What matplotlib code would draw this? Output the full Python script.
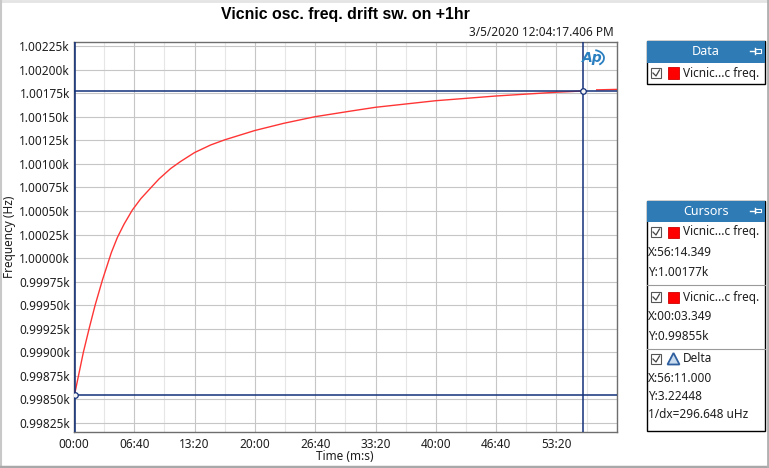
import matplotlib
matplotlib.use('Agg')
import matplotlib.pyplot as plt
from matplotlib.patches import Rectangle, Polygon, Arc
from matplotlib.lines import Line2D
from matplotlib.ticker import FuncFormatter, MultipleLocator, FixedLocator

plt.rcParams['font.family'] = ['Noto Sans', 'DejaVu Sans']

# trace: time in seconds, frequency in Hz
time_s = [3.349, 62, 100, 140, 189, 248, 288, 332, 387, 443, 509, 564, 641,
          707, 800, 906, 1000, 1200, 1391, 1598, 1836, 2000, 2400, 2800,
          3200, 3374.349]
freq_hz = [998.549, 999.00, 999.25, 999.50, 999.77, 1000.06, 1000.22, 1000.36,
           1000.51, 1000.63, 1000.745, 1000.84, 1000.95, 1001.025, 1001.12,
           1001.20, 1001.255, 1001.354, 1001.43, 1001.50, 1001.56, 1001.60,
           1001.67, 1001.72, 1001.76, 1001.773]
tail_s = [3467, 3600]
tail_hz = [1001.785, 1001.79]

cursor1 = (3374.349, 1001.773)
cursor2 = (3.349, 998.549)

x_ticks = [0, 400, 800, 1200, 1600, 2000, 2400, 2800, 3200]

title = 'Vicnic osc. freq. drift sw. on +1hr'
stamp = '3/5/2020 12:04:17.406 PM'
series_name = 'Vicnic...c freq.'
cursor_rows = [
    ['X:56:14.349', 'Y:1.00177k'],
    ['X:00:03.349', 'Y:0.99855k'],
    ['X:56:11.000', 'Y:3.22448', '1/dx=296.648 uHz'],
]

W, H = 769, 468
NAVY = '#13307a'
HEAD = '#2e7bb6'
TXT = '#1e1e1e'

fig = plt.figure(figsize=(W / 100, H / 100), dpi=100)
fig.patch.set_facecolor('white')


def fx(x):
    return x / W


def fy(y):
    return 1 - y / H


def box(x0, y0, x1, y1, **kw):
    fig.add_artist(Rectangle((fx(x0), fy(y1)), (x1 - x0) / W, (y1 - y0) / H,
                             transform=fig.transFigure, **kw))


def line(xs, ys, **kw):
    fig.add_artist(Line2D([fx(x) for x in xs], [fy(y) for y in ys],
                          transform=fig.transFigure, **kw))


def txt(x, y, s, **kw):
    kw.setdefault('va', 'center')
    fig.text(fx(x), fy(y), s, **kw)


ax = fig.add_axes([fx(74), fy(432), 542.7 / W, 390.3 / H])
ax.plot(time_s, freq_hz, color='#ff3535', lw=1.0, zorder=3)
ax.plot(tail_s, tail_hz, color='#ff3535', lw=1.0, zorder=3)
ax.set_xlim(0, 3600)
ax.set_ylim(998.155, 1002.296)

ax.xaxis.set_major_locator(FixedLocator(x_ticks))
ax.xaxis.set_minor_locator(MultipleLocator(200))
ax.yaxis.set_major_locator(MultipleLocator(0.25))
ax.xaxis.set_major_formatter(FuncFormatter(lambda t, p: f'{int(t // 60):02d}:{int(round(t % 60)):02d}'))
ax.yaxis.set_major_formatter(FuncFormatter(lambda v, p: f'{v / 1000:.5f}k'))
ax.grid(which='major', color='#c6c6c6', lw=0.8, zorder=0)
ax.grid(which='minor', axis='x', color='#e6e6e6', lw=0.8, zorder=0)
ax.tick_params(which='both', length=0, labelsize=8.5, colors=TXT)
ax.tick_params(axis='y', pad=3)
ax.tick_params(axis='x', pad=4)
for s in ax.spines.values():
    s.set_color('#6e6e6e')
    s.set_linewidth(1.0)

# cursors
for cx, cy in (cursor1, cursor2):
    ax.axhline(cy, color=NAVY, lw=1.1, zorder=4)
    ax.axvline(cx, color=NAVY, lw=1.1, zorder=4)
    ax.plot(cx, cy, 'o', ms=4, mfc='#f4f4f4', mec=NAVY, mew=0.9, zorder=5)

# AP logo
txt(592, 58, 'Ap', ha='center', fontsize=10, color='#2a7fc0',
    fontstyle='italic', fontweight='bold', family='DejaVu Sans')
fig.add_artist(Arc((fx(593), fy(58)), 22 / W, 16 / H, theta1=-60, theta2=80,
                   transform=fig.transFigure, color='#2a7fc0', lw=1.3))

# titles and axis labels
txt(345, 14, title, ha='center', fontsize=11.4, fontweight='bold', family='Liberation Sans')
txt(614, 32, stamp, ha='right', fontsize=8.5, color=TXT)
txt(10, 237, 'Frequency (Hz)', ha='center', rotation=90, fontsize=8.5, color=TXT)
txt(345, 456, 'Time (m:s)', ha='center', fontsize=8.5, color=TXT)


def panel_head(y0, y1, label):
    box(647, y0, 765, y1, facecolor=HEAD, edgecolor='none')
    txt(706, (y0 + y1) / 2, label, ha='center', fontsize=9, fontweight='bold', color='white')
    yc = (y0 + y1) / 2 - 1
    line([750, 755], [yc, yc], color='white', lw=1)
    line([755, 755], [yc - 3, yc + 3], color='white', lw=1)
    box(755, yc - 2, 761, yc + 2, facecolor='none', edgecolor='white', lw=0.8)


def check_row(y, icon='square'):
    box(651, y - 5, 661, y + 5, facecolor='white', edgecolor='#555555', lw=0.8)
    line([653, 656, 659.5], [y, y + 3, y - 3], color='#444444', lw=0.9)
    if icon == 'square':
        box(668, y - 5.5, 679, y + 5.5, facecolor='#ff0000', edgecolor='#d00000', lw=0.6)
        txt(683, y, series_name, fontsize=8.5, color=TXT)
    else:
        fig.add_artist(Polygon([(fx(667.5), fy(y + 5.5)), (fx(673.5), fy(y - 6)),
                                (fx(679.5), fy(y + 5.5))], closed=True,
                               transform=fig.transFigure, facecolor='#c9dcef',
                               edgecolor='#2f5f9e', lw=1.3))
        txt(683, y, 'Delta', fontsize=8.5, color=TXT)


# Data panel
box(647, 41, 765, 83.5, facecolor='white', edgecolor='black', lw=1)
panel_head(41, 62.5, 'Data')
check_row(73)

# Cursors panel
box(647, 201, 765, 431, facecolor='white', edgecolor='black', lw=1)
panel_head(201, 222, 'Cursors')
check_row(232)
txt(648, 252, cursor_rows[0][0], fontsize=8.5, color=TXT)
txt(648, 273, cursor_rows[0][1], fontsize=8.5, color=TXT)
line([647, 765], [285, 285], color='#9a9a9a', lw=0.8)
check_row(297)
txt(648, 317, cursor_rows[1][0], fontsize=8.5, color=TXT)
txt(648, 336, cursor_rows[1][1], fontsize=8.5, color=TXT)
line([647, 765], [349, 349], color='#9a9a9a', lw=0.8)
check_row(359, icon='delta')
txt(648, 378, cursor_rows[2][0], fontsize=8.5, color=TXT)
txt(648, 397, cursor_rows[2][1], fontsize=8.5, color=TXT)
txt(648, 415, cursor_rows[2][2], fontsize=8.5, color=TXT)

# window frame
line([0, W], [1, 1], color='#e4e4e4', lw=2)
line([1, 1], [0, H], color='#c8c8c8', lw=1.5)
line([0, W], [466.5, 466.5], color='#a8a8a8', lw=2.5)
line([767.5, 767.5], [0, H], color='#b0b0b0', lw=2)

fig.savefig('out.png', dpi=100)
